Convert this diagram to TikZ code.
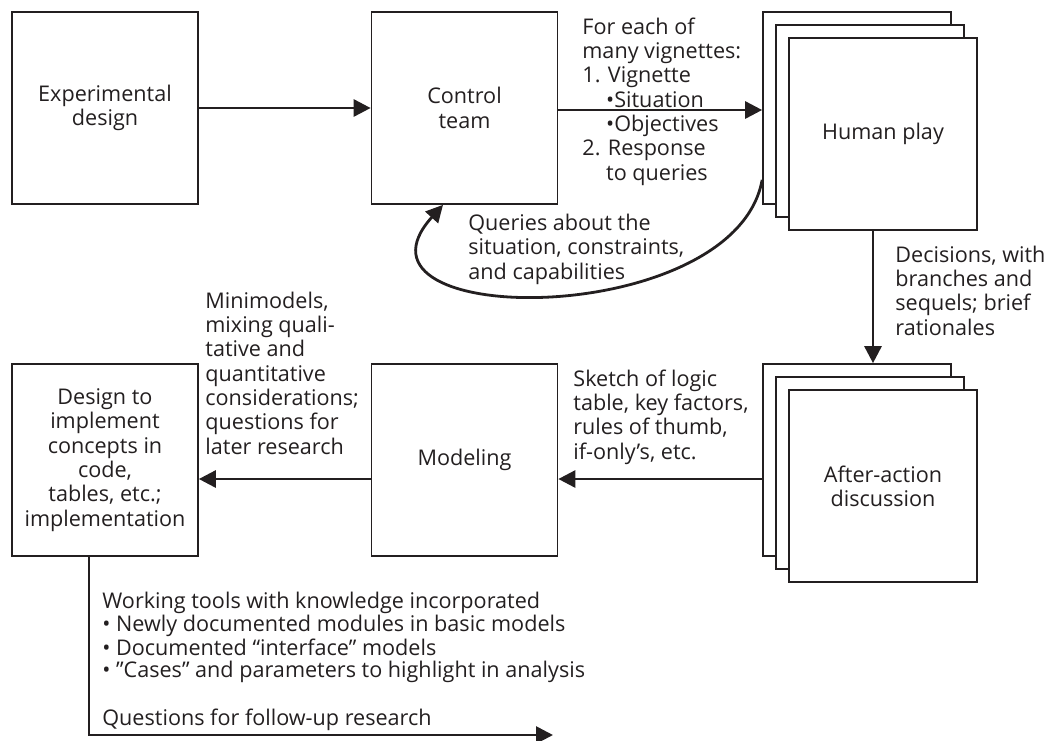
\documentclass[tikz,border=0pt]{standalone}
\usepackage{fontspec}
\setmainfont{Open Sans}
\usepackage{tikz}
\usepackage{xcolor}
\usetikzlibrary{arrows.meta,positioning,calc}
\definecolor{ink}{RGB}{35,31,32}

\begin{document}
\begin{tikzpicture}[x=0.5pt,y=-0.5pt,
  every node/.style={text=ink,font=\fontsize{10.8}{12.15}\selectfont},
  box/.style={draw=ink,line width=0.85pt,fill=white,align=center,inner sep=0pt,minimum width=93pt,minimum height=96pt},
  note/.style={align=left,anchor=base west,inner sep=0pt},
  arrow/.style={draw=ink,line width=1.4pt,-{Triangle[length=8.5pt,width=8.5pt]}}]
\useasboundingbox (0,0) rectangle (1049,740);
\node[box] (expdesign) at (105,108) {Experimental\\design};
\node[box] (control) at (464.5,108) {Control\\team};
\foreach \k in {0,1,2}{
  \node[box,minimum width=94pt] (human\k) at (857+13*\k,108+13*\k) {};
  \node[box,minimum width=94pt] (after\k) at (857+13*\k,460+13*\k) {};
}
\node (humanlbl) at (human2) {Human play};
\node[align=center] (afterlbl) at (after2) {After-action\\discussion};
\node[box] (modeling) at (464.5,460) {Modeling};
\node[box] (design) at (105,460) {Design to\\implement\\concepts in\\code,\\tables, etc.;\\implementation};
\coordinate (qend) at (553,735);

\draw[arrow] (expdesign) -- (control);
\draw[arrow] ([yshift=-1pt]control.east) -- ([yshift=-1pt]control.east -| human0.west);
\draw[arrow] ([yshift=12.5pt]human0.south west) .. controls (735,330) and (330,330) .. ([xshift=-10.75pt]control.south);
\draw[arrow] ([xshift=-5pt]human2.south) -- ([xshift=-5pt]human2.south |- after0.north);
\draw[arrow] ([yshift=-9.5pt]modeling.east -| after0.west) -- ([yshift=-9.5pt]modeling.east);
\draw[arrow] ([yshift=-9.5pt]modeling.west) -- ([yshift=-9.5pt]design.east);
\draw[arrow] ([xshift=-8pt]design.south) |- (qend);

\node[note] (vignettes) at (582,180) {For each of\\many vignettes:\\1. Vignette\\\hspace*{1.1em}•Situation\\\hspace*{1.1em}•Objectives\\2. Response\\\hspace*{1.1em}to queries};
\node[note] (queries) at (468,279) {Queries about the\\situation, constraints,\\and capabilities};
\node[note] (decisions) at (895,335) {Decisions, with\\branches and\\sequels; brief\\rationales};
\node[note] (minimodels) at (205,454) {Minimodels,\\mixing quali-\\tative and\\quantitative\\considerations;\\questions for\\later research};
\node[note] (sketch) at (573,459) {Sketch of logic\\table, key factors,\\rules of thumb,\\if-only’s, etc.};
\node[note,font=\fontsize{10.8}{10.7}\selectfont] (tools) at (102,677) {Working tools with knowledge incorporated\\• Newly documented modules in basic models\\• Documented “interface” models\\• ”Cases” and parameters to highlight in analysis};
\node[note] (followup) at (102,725) {Questions for follow-up research};
\end{tikzpicture}
\end{document}
